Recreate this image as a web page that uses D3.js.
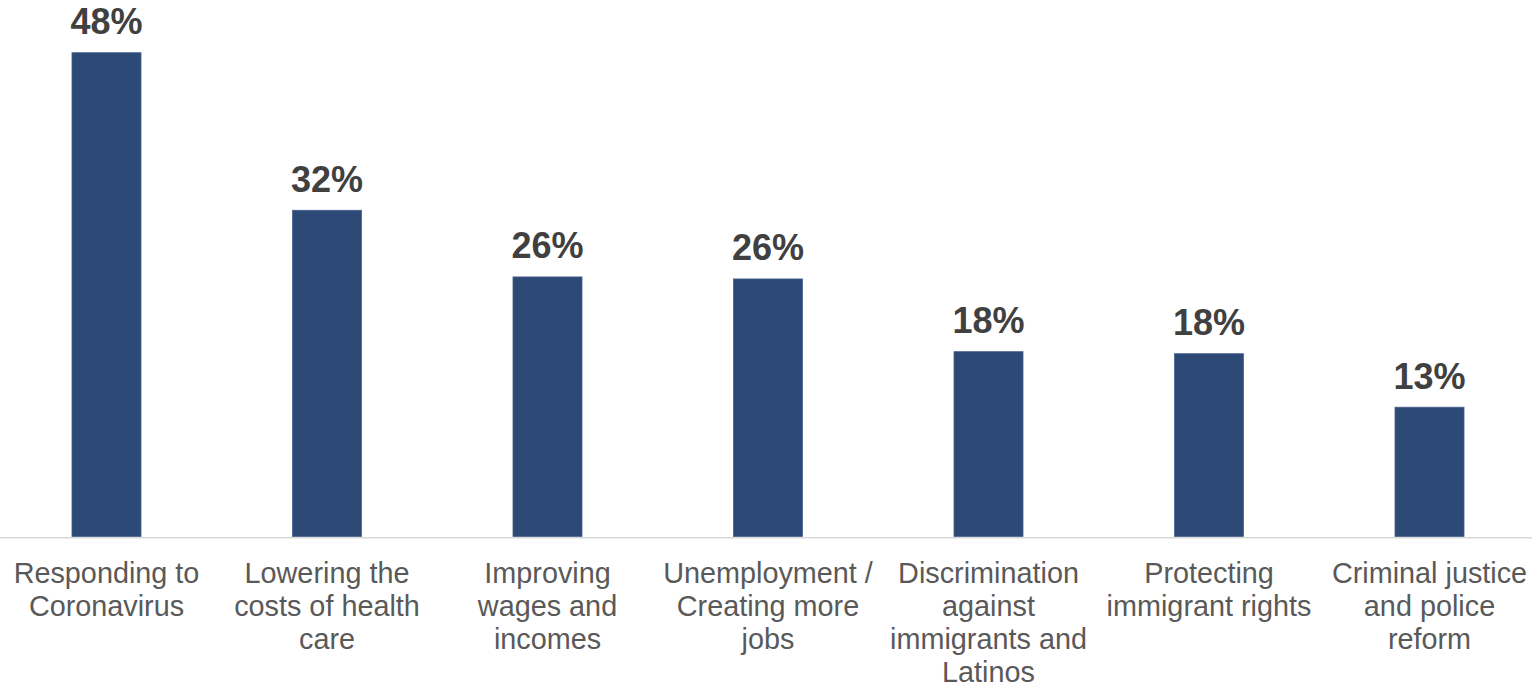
<!DOCTYPE html>
<html>
<head>
<meta charset="utf-8">
<script src="https://cdn.jsdelivr.net/npm/d3@7"></script>
<style>
  html, body { margin: 0; padding: 0; background: #ffffff; }
  svg { display: block; }
</style>
</head>
<body>
<svg id="chart" width="1532" height="691"></svg>
<script>
const categories = [
  "Responding to\nCoronavirus",
  "Lowering the\ncosts of health\ncare",
  "Improving\nwages and\nincomes",
  "Unemployment /\nCreating more\njobs",
  "Discrimination\nagainst\nimmigrants and\nLatinos",
  "Protecting\nimmigrant rights",
  "Criminal justice\nand police\nreform"
];
const values = [47.9, 32.3, 25.7, 25.5, 18.3, 18.1, 12.8];

const svg = d3.select("#chart");
const baseY = 536.5;

const x = d3.scaleBand()
  .domain(categories)
  .range([-3.75, 1539.75])
  .paddingInner(0.687)
  .paddingOuter(0.3435);

const y = d3.scaleLinear()
  .domain([0, 50])
  .range([baseY, baseY - 505]);

// bars
svg.append("g")
  .selectAll("rect")
  .data(values)
  .join("rect")
  .attr("x", (d, i) => x(categories[i]))
  .attr("y", d => y(d))
  .attr("width", x.bandwidth())
  .attr("height", d => y(0) - y(d))
  .attr("fill", "#2c4a75")
  .attr("stroke", "#46628c")
  .attr("stroke-width", 0.8);

// value labels
svg.append("g")
  .selectAll("text")
  .data(values)
  .join("text")
  .attr("x", (d, i) => x(categories[i]) + x.bandwidth() / 2)
  .attr("y", d => y(d) - 18.5)
  .attr("text-anchor", "middle")
  .attr("font-family", "Liberation Sans, Arial, sans-serif")
  .attr("font-weight", "bold")
  .attr("font-size", 36)
  .attr("fill", "#404040")
  .text(d => Math.round(d) + "%");

// axis
const axis = d3.axisBottom(x).tickSize(0).tickFormat("");
const gAxis = svg.append("g")
  .attr("transform", `translate(0,${baseY + 0.75})`)
  .call(axis);
gAxis.select(".domain")
  .attr("stroke", "#d9d9d9")
  .attr("stroke-width", 1.5);

// category labels
const labels = svg.append("g")
  .selectAll("text")
  .data(categories)
  .join("text")
  .attr("text-anchor", "middle")
  .attr("font-family", "Liberation Sans, Arial, sans-serif")
  .attr("font-size", 28.8)
  .attr("fill", "#595959")
  .attr("transform", d => `translate(${x(d) + x.bandwidth() / 2},583)`);

labels.selectAll("tspan")
  .data(d => d.split("\n"))
  .join("tspan")
  .attr("x", 0)
  .attr("y", (d, i) => i * 33)
  .text(d => d);
</script>
</body>
</html>
